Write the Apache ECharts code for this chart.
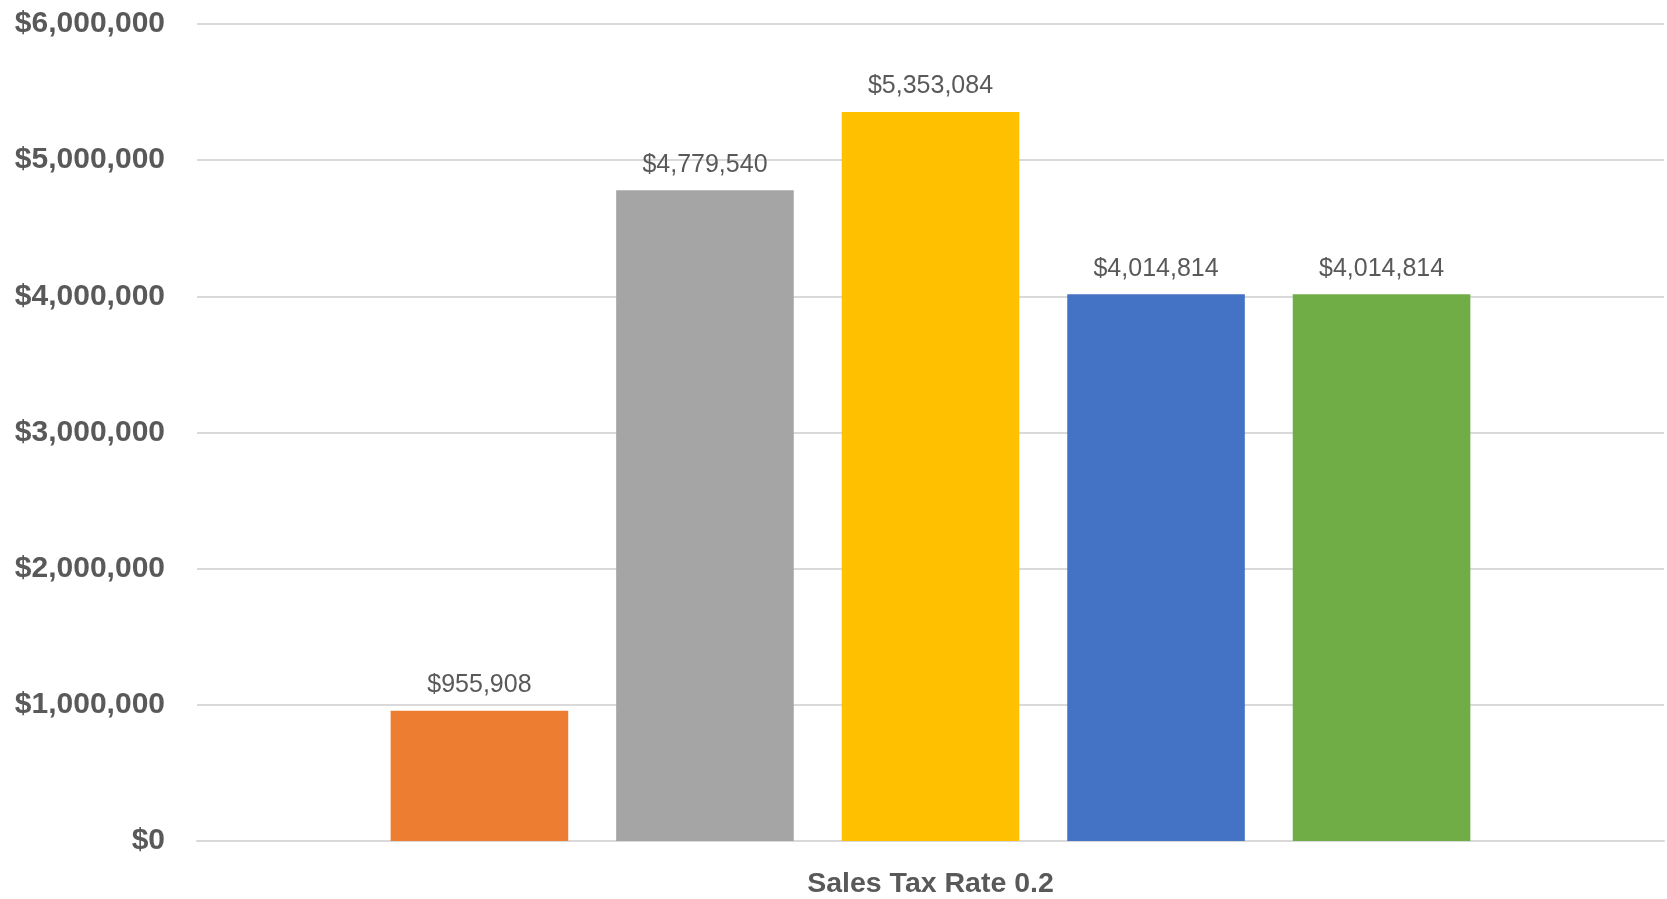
<!DOCTYPE html>
<html>
<head>
<meta charset="utf-8">
<script src="https://cdn.jsdelivr.net/npm/echarts@6/dist/echarts.min.js"></script>
<style>
html,body{margin:0;padding:0;background:#fff;}
#chart{width:1667px;height:899px;}
</style>
</head>
<body>
<div id="chart"></div>
<script>
const categories = ["Sales Tax Rate 0.2"];
const seriesNames = ["Series A", "Series B", "Series C", "Series D", "Series E"];
const seriesValues = [955908, 4779540, 5353084, 4014814, 4014814];
const seriesColors = ["#ED7D31", "#A5A5A5", "#FFC000", "#4472C4", "#70AD47"];
const yTicks = { min: 0, max: 6000000, interval: 1000000 };

function money(v) {
  return '$' + Math.round(v).toString().replace(/\B(?=(\d{3})+(?!\d))/g, ',');
}

const chart = echarts.init(document.getElementById('chart'));
const series = seriesNames.map((name, i) => ({
  name: name,
  type: 'bar',
  data: [seriesValues[i]],
  itemStyle: { color: seriesColors[i] },
  barCategoryGap: '26.4%',
  barGap: '27%',
  label: {
    show: true,
    position: 'top',
    distance: 13,
    formatter: p => money(p.value),
    color: '#595959',
    fontSize: 25,
    fontFamily: 'Liberation Sans, Arial, sans-serif'
  }
}));

chart.setOption({
  animation: false,
  backgroundColor: '#ffffff',
  grid: { left: 197, right: 3, top: 24, bottom: 55, containLabel: false },
  xAxis: {
    type: 'category',
    data: categories,
    axisLine: { show: true, lineStyle: { color: '#D9D9D9', width: 2 } },
    axisTick: { show: false },
    axisLabel: {
      color: '#595959',
      fontSize: 28.5,
      fontWeight: 'bold',
      fontFamily: 'Liberation Sans, Arial, sans-serif',
      margin: 29
    }
  },
  yAxis: {
    type: 'value',
    min: yTicks.min,
    max: yTicks.max,
    interval: yTicks.interval,
    axisLine: { show: false },
    axisTick: { show: false },
    splitLine: { lineStyle: { color: '#D9D9D9', width: 2 } },
    axisLabel: {
      color: '#595959',
      fontSize: 30,
      fontWeight: 'bold',
      fontFamily: 'Liberation Sans, Arial, sans-serif',
      margin: 32,
      formatter: v => money(v)
    }
  },
  series: series
});
</script>
</body>
</html>
